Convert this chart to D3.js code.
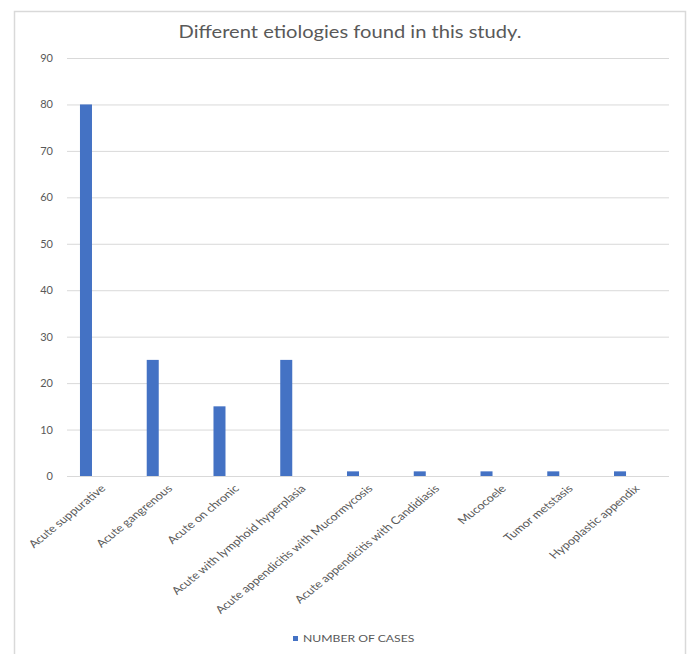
<!DOCTYPE html>
<html><head><meta charset="utf-8">
<script src="https://cdn.jsdelivr.net/npm/d3@7"></script>
<style>
body{margin:0;background:#fff;}
svg{display:block;font-family:Lato,"Open Sans",sans-serif;}
</style></head>
<body><svg id="chart" width="688" height="654"></svg>
<script>
const categories = ["Acute suppurative","Acute gangrenous","Acute on chronic","Acute with lymphoid hyperplasia","Acute appendicitis with Mucormycosis","Acute appendicitis with Candidiasis","Mucocoele","Tumor metstasis","Hypoplastic appendix"];
const cases = [80,25,15,25,1,1,1,1,1];
const yTicks = [0,10,20,30,40,50,60,70,80,90];
const title = "Different etiologies found in this study.";
const seriesName = "NUMBER OF CASES";

const svg = d3.select("#chart");
const color = "#4472C4", textColor = "#595959";
const sx = 1.22; // horizontal stretch of texts
svg.append("rect").attr("x",14.5).attr("y",11.5).attr("width",671).attr("height",660)
  .attr("fill","none").attr("stroke","#d9d9d9").attr("stroke-width",1.5);

const x = d3.scaleBand().domain(categories).range([52.6,653.4]).paddingInner(0.82).paddingOuter(0.41);
const y = d3.scaleLinear().domain([0,90]).range([476,58]);

svg.append("text").attr("transform",`translate(350,38) scale(${sx},1)`).attr("text-anchor","middle")
  .attr("fill",textColor).attr("font-size",16.5).text(title);

const gy = svg.append("g").attr("transform","translate(67,0)")
  .call(d3.axisLeft(y).tickValues(yTicks).tickSize(-602).tickPadding(14));
gy.select(".domain").remove();
gy.selectAll(".tick line").attr("stroke","#d9d9d9");
gy.selectAll(".tick text").attr("fill",textColor).attr("font-size",11).attr("font-family","Lato,sans-serif");

svg.selectAll("rect.bar").data(cases).join("rect").attr("class","bar")
  .attr("x",(d,i)=>x(categories[i])).attr("width",x.bandwidth())
  .attr("y",d=>y(d)).attr("height",d=>y(0)-y(d)).attr("fill",color);

svg.append("line").attr("x1",67).attr("x2",669).attr("y1",476.5).attr("y2",476.5).attr("stroke","#d9d9d9");

const gx = svg.append("g").attr("transform","translate(0,476)")
  .call(d3.axisBottom(x).tickSize(0).tickPadding(0));
gx.select(".domain").remove();
gx.selectAll(".tick text").attr("fill",textColor).attr("font-size",10.5)
  .attr("font-family","Lato,sans-serif")
  .attr("text-anchor","end").attr("dy","0.7em")
  .attr("transform",`translate(14,8) scale(${sx},1) rotate(-45)`).attr("y",0).attr("x",0);

const lg = svg.append("g");
lg.append("rect").attr("x",293).attr("y",636).attr("width",5).attr("height",5).attr("fill",color);
lg.append("text").attr("transform",`translate(303,642) scale(${sx},1)`).attr("fill",textColor).attr("font-size",10).text(seriesName);
</script></body></html>
